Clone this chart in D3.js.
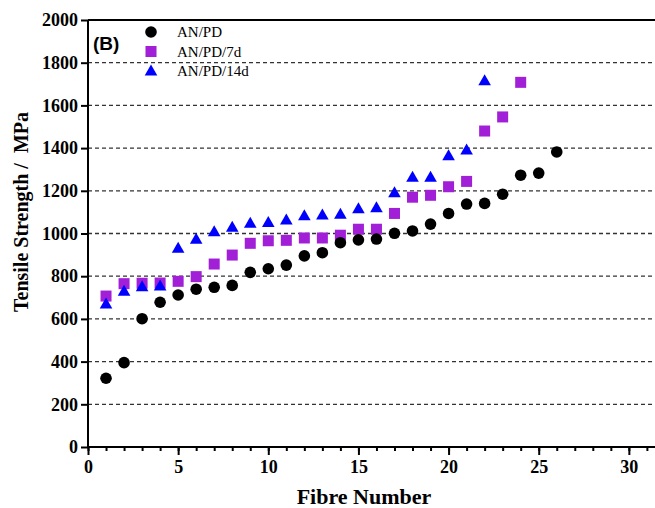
<!DOCTYPE html>
<html>
<head>
<meta charset="utf-8">
<script src="https://cdn.jsdelivr.net/npm/d3@7"></script>
<style>
  body { margin: 0; background: #fff; }
  svg { display: block; }
</style>
</head>
<body>
<svg id="chart" width="655" height="508"></svg>
<script>
// values (MPa), fibre numbers start at 1
const anpd = [322, 395, 601, 678, 712, 739, 748, 757, 818, 835, 852, 895, 910, 957,
  970, 974, 1001, 1012, 1044, 1094, 1138, 1141, 1184, 1273, 1283, 1382];
const anpd7 = [707, 765, 767, 768, 776, 798, 857, 899, 954, 966, 968, 979, 979, 992,
  1020, 1020, 1094, 1170, 1179, 1219, 1244, 1480, 1546, 1708];
const anpd14 = [670, 730, 751, 754, 931, 973, 1008, 1029, 1048, 1052, 1063, 1083, 1087,
  1090, 1116, 1121, 1191, 1263, 1263, 1364, 1391, 1716];
const yTicks = [0, 200, 400, 600, 800, 1000, 1200, 1400, 1600, 1800, 2000];
const xTicks = [0, 5, 10, 15, 20, 25, 30];

const series = [
  { name: "AN/PD", values: anpd, shape: "circle", color: "#000000" },
  { name: "AN/PD/7d", values: anpd7, shape: "square", color: "#a21fd8" },
  { name: "AN/PD/14d", values: anpd14, shape: "triangle", color: "#0000ff" },
];

(function () {
  const svg = d3.select("#chart");
  const mLeft = 88, mRight = 655, mTop = 20, mBottom = 447;

  const x = d3.scaleLinear().domain([0, 31.45]).range([mLeft, mRight]);
  const y = d3.scaleLinear().domain([0, 2000]).range([mBottom, mTop]);

  const serif = "'Liberation Serif', 'Times New Roman', serif";

  // dashed grid
  svg.append("g")
    .selectAll("line")
    .data(yTicks.filter(d => d > 0 && d < 2000))
    .join("line")
    .attr("x1", mLeft).attr("x2", mRight)
    .attr("y1", d => y(d)).attr("y2", d => y(d))
    .attr("stroke", "#333").attr("stroke-width", 1.3)
    .attr("stroke-dasharray", "4,3");

  // top frame line
  svg.append("line")
    .attr("x1", mLeft).attr("x2", mRight)
    .attr("y1", y(2000)).attr("y2", y(2000))
    .attr("stroke", "#000").attr("stroke-width", 2);

  // y axis
  const yAxis = svg.append("g")
    .attr("transform", `translate(${mLeft},0)`)
    .call(d3.axisLeft(y).tickValues(yTicks).tickSize(7).tickPadding(3)
      .tickFormat(d3.format("d")));

  // x axis: minor ticks each fibre, major every 5
  const xAxis = svg.append("g")
    .attr("transform", `translate(0,${mBottom})`)
    .call(d3.axisBottom(x).tickValues(d3.range(0, 32)).tickSize(4).tickFormat(""));
  svg.append("g")
    .attr("transform", `translate(0,${mBottom})`)
    .call(d3.axisBottom(x).tickValues(xTicks).tickSize(8).tickPadding(5))
    .call(g => g.select(".domain").remove());

  svg.selectAll(".domain").attr("stroke-width", 2);
  yAxis.select(".domain").attr("d", `M0,${mTop}V${mBottom}`);
  xAxis.select(".domain").attr("d", `M${mLeft},0H${mRight}`);
  svg.selectAll(".tick line").attr("stroke-width", 2);
  svg.selectAll(".tick text")
    .attr("font-family", serif).attr("font-weight", "bold")
    .attr("font-size", 18).attr("fill", "#000");

  // axis titles
  svg.append("text")
    .attr("transform", `translate(28,212) rotate(-90)`)
    .attr("text-anchor", "middle")
    .attr("font-family", serif).attr("font-weight", "bold").attr("font-size", 20)
    .text("Tensile Strength /\u00A0 MPa");
  svg.append("text")
    .attr("x", 364).attr("y", 504)
    .attr("text-anchor", "middle")
    .attr("font-family", serif).attr("font-weight", "bold").attr("font-size", 22)
    .text("Fibre Number");

  function drawMarker(sel, shape, color) {
    if (shape === "circle") {
      sel.append("circle").attr("r", 5.8).attr("fill", color);
    } else if (shape === "square") {
      sel.append("rect").attr("x", -5.5).attr("y", -5.5)
        .attr("width", 11).attr("height", 11).attr("fill", color);
    } else {
      sel.append("path").attr("d", "M0,-6.5L6.3,4.5H-6.3Z").attr("fill", color);
    }
  }

  // draw squares, then triangles, then circles (circles sit on top)
  const order = [series[1], series[2], series[0]];
  order.forEach(s => {
    svg.append("g")
      .selectAll("g")
      .data(s.values)
      .join("g")
      .attr("transform", (d, i) => `translate(${x(i + 1)},${y(d)})`)
      .each(function () { drawMarker(d3.select(this), s.shape, s.color); });
  });

  // panel label and legend
  svg.append("text")
    .attr("x", 93).attr("y", 50)
    .attr("font-family", "'Liberation Sans', Arial, sans-serif")
    .attr("font-weight", "bold").attr("font-size", 19)
    .text("(B)");

  const legend = svg.append("g");
  series.forEach((s, i) => {
    const row = legend.append("g").attr("transform", `translate(151,${32 + i * 19.5})`);
    drawMarker(row, s.shape, s.color);
    row.append("text")
      .attr("x", 26).attr("y", 5)
      .attr("font-family", serif).attr("font-size", 15)
      .text(s.name);
  });
})();
</script>
</body>
</html>
